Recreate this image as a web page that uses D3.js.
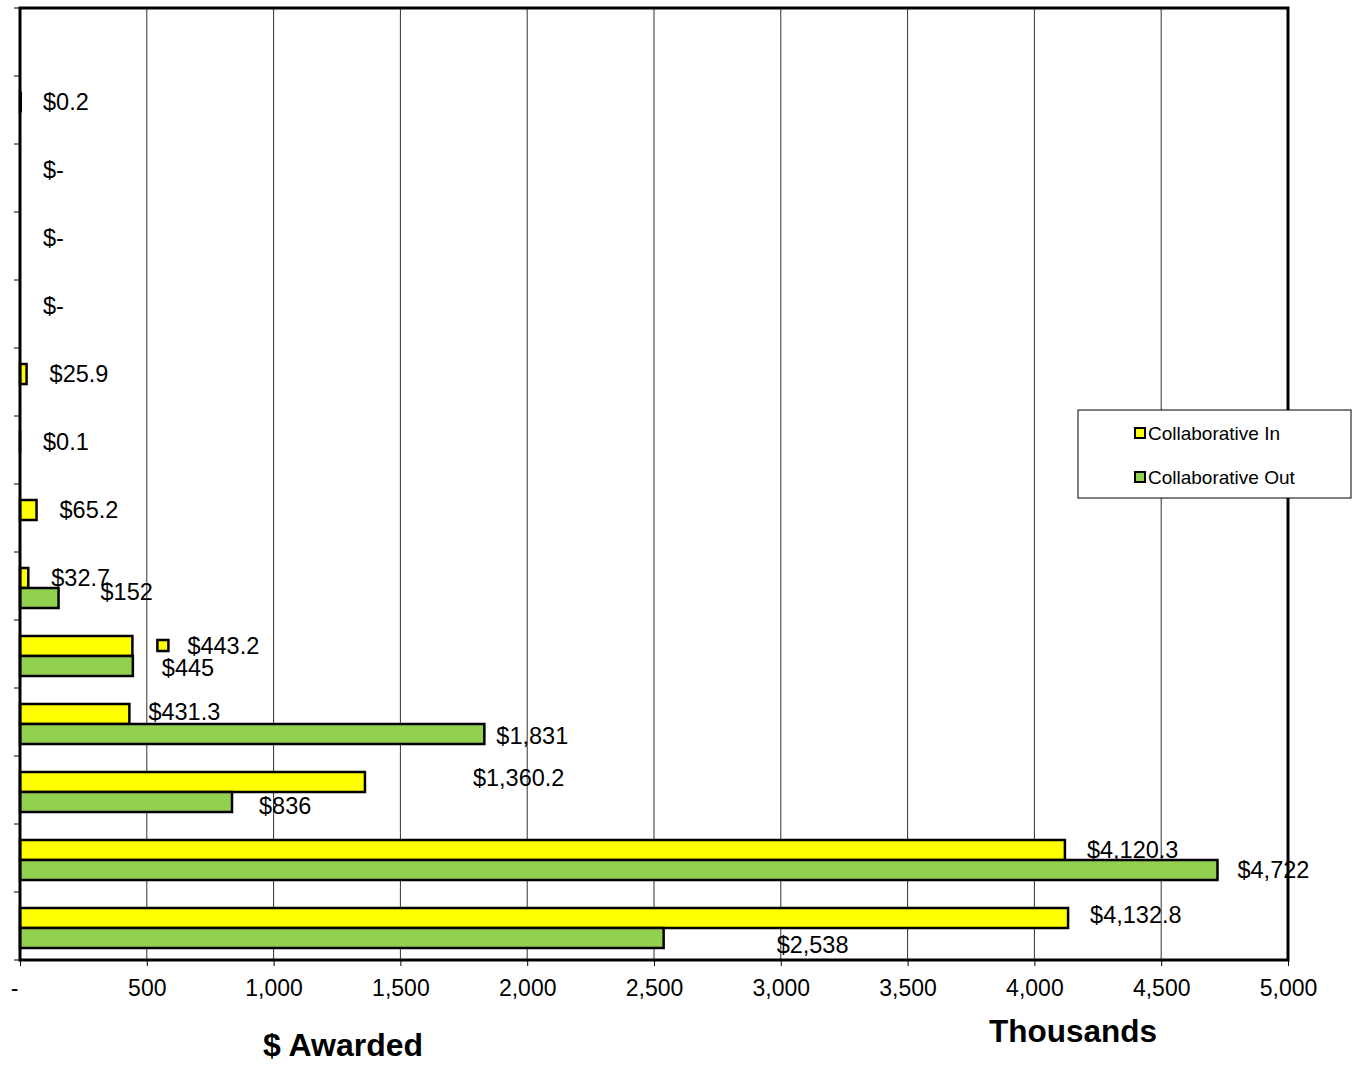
<!DOCTYPE html>
<html>
<head>
<meta charset="utf-8">
<script src="https://cdn.jsdelivr.net/npm/d3@7"></script>
<style>
  body { margin: 0; background: #fff; }
  svg { display: block; font-family: "Liberation Sans", Arial, sans-serif; }
</style>
</head>
<body>
<div id="chart"></div>
<script>
// categories top to bottom (no labels shown on the chart)
var categories = ["c1","c2","c3","c4","c5","c6","c7","c8","c9","c10","c11","c12","c13","c14"];
var seriesNames = ["Collaborative In", "Collaborative Out"];
// values in thousands of $
var collabIn  = [null, 0.2, 0, 0, 0, 25.9, 0.1, 65.2, 32.7, 443.2, 431.3, 1360.2, 4120.3, 4132.8];
var collabOut = [null, null, null, null, null, null, null, null, 152, 445, 1831, 836, 4722, 2538];
var xTicks = [0, 500, 1000, 1500, 2000, 2500, 3000, 3500, 4000, 4500, 5000];

// label nudges (Excel left some labels where they were dragged)
var inDx  = [0, 23, 23, 23, 23, 23, 23, 23, 23, 55, 19, 108, 22, 22];
var inDy  = [0, 0, 0, 0, 0, 0, 0, 0, 0, 0, -2, -4, 0, -3];
var outDx = [0, 0, 0, 0, 0, 0, 0, 0, 42, 29, 12, 27, 20, 113];
var outDy = [0, 0, 0, 0, 0, 0, 0, 0, -6, 2, 2, 4, 0, 7];

var width = 1352, height = 1070;
var margin = {top: 8, right: 64, bottom: 110, left: 20};
var plotW = width - margin.left - margin.right;
var plotH = height - margin.top - margin.bottom;
var colors = {"Collaborative In": "#ffff00", "Collaborative Out": "#92d050"};

var svg = d3.select("#chart").append("svg").attr("width", width).attr("height", height);
var g = svg.append("g").attr("transform", "translate(" + margin.left + "," + margin.top + ")");

var x = d3.scaleLinear().domain([0, 5000]).range([0, plotW]);
var y0 = d3.scaleBand().domain(categories).range([0, plotH]);
var y1 = d3.scaleBand().domain(seriesNames).range([16, 56]);

// gridlines
g.selectAll(".grid").data(xTicks.slice(1, -1)).enter().append("line")
  .attr("x1", function(d){ return x(d); }).attr("x2", function(d){ return x(d); })
  .attr("y1", 0).attr("y2", plotH)
  .attr("stroke", "#333").attr("stroke-width", 1);

// x axis
var fmtTick = function(d){ return d === 0 ? "-" : d3.format(",")(d); };
var xAxis = g.append("g").attr("transform", "translate(0," + plotH + ")")
  .call(d3.axisBottom(x).tickValues(xTicks).tickFormat(fmtTick).tickSize(6).tickPadding(14));
xAxis.select(".domain").remove();
xAxis.selectAll("line").attr("stroke", "#000").attr("stroke-width", 1);
xAxis.selectAll("text").attr("font-size", 23).attr("fill", "#000")
  .attr("font-family", "Liberation Sans, Arial, sans-serif");
xAxis.selectAll("text").filter(function(d){ return d === 0; }).attr("dx", -6);

// y ticks at band edges
var edges = categories.map(function(c){ return y0(c); }).concat([plotH]);
g.selectAll(".ytick").data(edges).enter().append("line")
  .attr("x1", -6).attr("x2", 0)
  .attr("y1", function(d){ return d; }).attr("y2", function(d){ return d; })
  .attr("stroke", "#000").attr("stroke-width", 1);

// bars
var rows = categories.map(function(c, i){
  return {cat: c, i: i, vals: [
    {s: seriesNames[0], v: collabIn[i], dx: inDx[i], dy: inDy[i], lab: collabIn[i] === 0 ? "$-" : "$" + d3.format(",.1f")(collabIn[i])},
    {s: seriesNames[1], v: collabOut[i], dx: outDx[i], dy: outDy[i], lab: collabOut[i] === null ? "" : "$" + d3.format(",.0f")(collabOut[i])}
  ]};
});

var rowG = g.selectAll(".row").data(rows).enter().append("g")
  .attr("transform", function(d){ return "translate(0," + y0(d.cat) + ")"; });

var items = rowG.selectAll(".item").data(function(d){
  return d.vals.filter(function(v){ return v.v !== null; });
}).enter();

items.filter(function(d){ return d.v > 0; }).append("rect")
  .attr("x", 0)
  .attr("y", function(d){ return y1(d.s); })
  .attr("width", function(d){ return x(d.v); })
  .attr("height", y1.bandwidth())
  .attr("fill", function(d){ return colors[d.s]; })
  .attr("stroke", "#000").attr("stroke-width", 2.5);

items.append("text")
  .attr("x", function(d){ return x(d.v) + d.dx; })
  .attr("y", function(d){ return y1(d.s) + y1.bandwidth() / 2 + d.dy; })
  .attr("dy", "0.35em")
  .attr("font-size", 23.5).attr("fill", "#000")
  .text(function(d){ return d.lab; });

// legend key shown beside the $443.2 label
var keyRow = rows[9];
g.append("rect")
  .attr("x", x(keyRow.vals[0].v) + 25).attr("y", y0(keyRow.cat) + y1(seriesNames[0]) + 4)
  .attr("width", 11).attr("height", 11)
  .attr("fill", colors[seriesNames[0]]).attr("stroke", "#000").attr("stroke-width", 2.5);

// plot border
g.append("rect").attr("x", 0).attr("y", 0).attr("width", plotW).attr("height", plotH)
  .attr("fill", "none").attr("stroke", "#000").attr("stroke-width", 3);

// thin sliver for the $0.2 value, drawn over the border like the original
g.append("line").attr("x1", 1).attr("x2", 1)
  .attr("y1", y0(categories[1]) + y1(seriesNames[0])).attr("y2", y0(categories[1]) + y1(seriesNames[0]) + y1.bandwidth())
  .attr("stroke", "#000").attr("stroke-width", 2);

// axis titles
svg.append("text").attr("x", 343).attr("y", 1056).attr("text-anchor", "middle")
  .attr("font-size", 32).attr("font-weight", "bold").text("$ Awarded");
svg.append("text").attr("x", 1073).attr("y", 1042).attr("text-anchor", "middle")
  .attr("font-size", 31.5).attr("font-weight", "bold").text("Thousands");

// legend
var leg = svg.append("g").attr("transform", "translate(1078,410)");
leg.append("rect").attr("x", 0).attr("y", 0).attr("width", 273).attr("height", 88)
  .attr("fill", "#fff").attr("stroke", "#000").attr("stroke-width", 1);
seriesNames.forEach(function(s, i){
  var ly = 23 + i * 44;
  leg.append("rect").attr("x", 57).attr("y", ly - 5).attr("width", 10).attr("height", 10)
    .attr("fill", colors[s]).attr("stroke", "#000").attr("stroke-width", 2);
  leg.append("text").attr("x", 70).attr("y", ly).attr("dy", "0.35em")
    .attr("font-size", 19).text(s);
});
</script>
</body>
</html>
